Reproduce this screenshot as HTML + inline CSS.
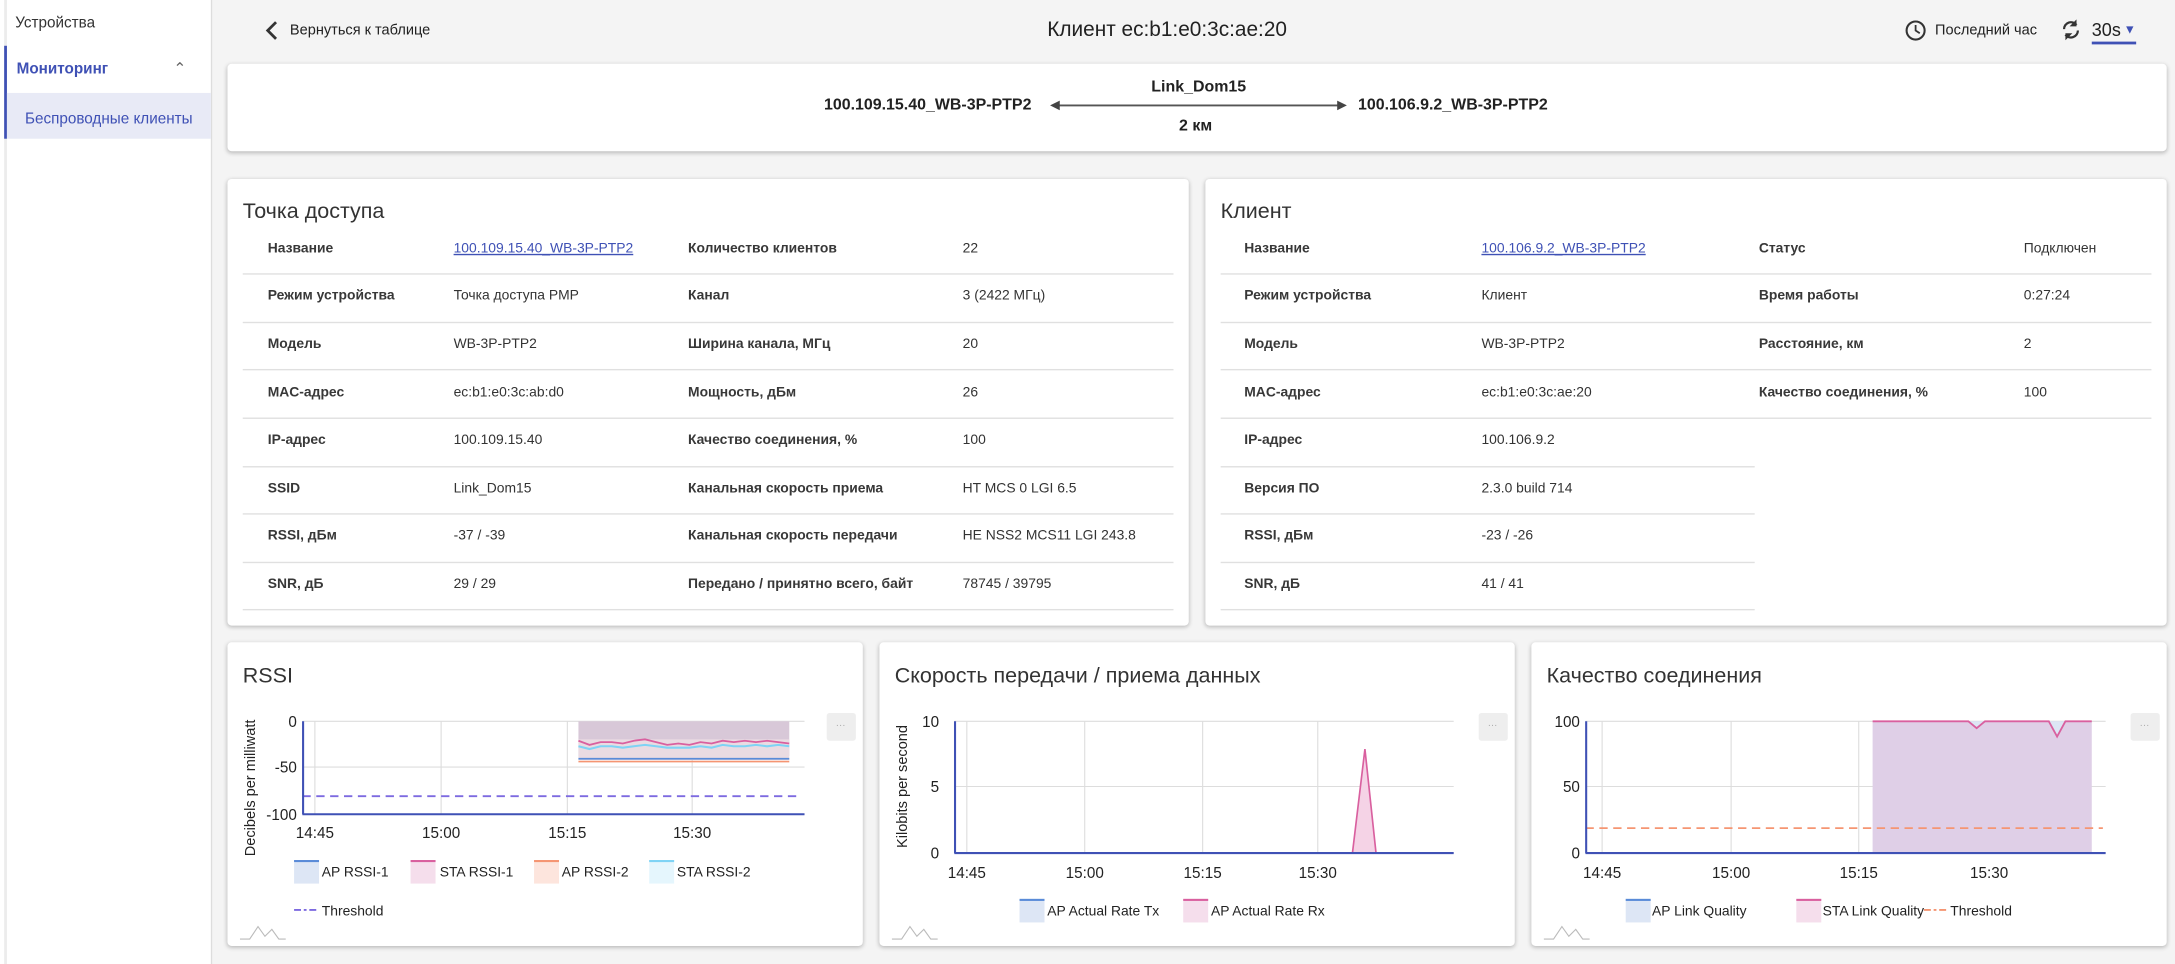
<!DOCTYPE html>
<html><head><meta charset="utf-8">
<style>
html,body{margin:0;padding:0;width:2175px;height:964px;overflow:hidden;background:#f4f4f4;}
#w{position:absolute;left:0;top:0;width:1568px;height:695px;transform:scale(1.38712);transform-origin:0 0;font-family:"Liberation Sans","Noto Sans CJK JP",sans-serif;color:#212121;}
.a{position:absolute;white-space:nowrap;}
.card{position:absolute;background:#fff;border-radius:3px;box-shadow:0 1px 3px rgba(0,0,0,.25);}
.lb{font-size:10px;font-weight:bold;color:#383838;}
.vl{font-size:10px;color:#333;}
.ln{position:absolute;height:1px;background:#e0e0e0;}
.t16{font-size:15.5px;color:#333;}
a{color:#3f51b5;}
svg text{font-family:"Liberation Sans",sans-serif;}
</style></head><body><div id="w">
<div class="a" style="left:0;top:0;width:152px;height:695px;background:#fff;border-right:1px solid #ddd;"></div>
<div class="a" style="left:3px;top:0;width:2px;height:695px;background:#ececec;"></div>
<div class="a" style="left:11px;top:11px;font-size:11px;color:#333;">Устройства</div>
<div class="a" style="left:3px;top:33px;width:149px;height:67px;border-left:2px solid #3f51b5;"></div>
<div class="a" style="left:5px;top:67px;width:147px;height:33px;background:#e8eaf6;"></div>
<div class="a" style="left:12px;top:44px;font-size:11px;color:#3f51b5;font-weight:bold;">Мониторинг</div>
<div class="a" style="left:125px;top:43px;font-size:11px;color:#666;">⌃</div>
<div class="a" style="left:18px;top:80px;font-size:11px;color:#3f51b5;">Беспроводные клиенты</div>
<svg class="a" style="left:190px;top:14px" width="12" height="16"><path d="M9 2 L3 8 L9 14" stroke="#333" stroke-width="2" fill="none"/></svg>
<div class="a" style="left:209px;top:16px;font-size:10.5px;">Вернуться к таблице</div>
<div class="a" style="left:755px;top:13px;font-size:15px;">Клиент ec:b1:e0:3c:ae:20</div>
<svg class="a" style="left:1373px;top:14px" width="16" height="16"><circle cx="8" cy="8" r="6.5" stroke="#333" stroke-width="1.5" fill="none"/><path d="M8 4V8L11 10" stroke="#333" stroke-width="1.3" fill="none"/></svg>
<div class="a" style="left:1395px;top:16px;font-size:10.5px;">Последний час</div>
<svg class="a" style="left:1485px;top:13px" width="16" height="17"><path d="M3 8A5 5 0 0 1 12 5M13 9A5 5 0 0 1 4 12" stroke="#333" stroke-width="1.6" fill="none"/><path d="M12 1V6H7Z M4 16V11H9Z" fill="#333"/></svg>
<div class="a" style="left:1508px;top:14px;font-size:13px;">30s</div>
<div class="a" style="left:1531px;top:16px;font-size:9px;color:#3f51b5;">▼</div>
<div class="a" style="left:1508px;top:30px;width:32px;height:1.5px;background:#3f51b5;"></div>
<div class="card" style="left:164px;top:46px;width:1398px;height:63px;"></div>
<div class="a" style="left:830px;top:57px;font-size:11.5px;font-weight:bold;">Link_Dom15</div>
<div class="a" style="left:594px;top:70px;font-size:11.5px;font-weight:bold;">100.109.15.40_WB-3P-PTP2</div>
<div class="a" style="left:979px;top:70px;font-size:11.5px;font-weight:bold;">100.106.9.2_WB-3P-PTP2</div>
<div class="a" style="left:850px;top:85px;font-size:11.5px;font-weight:bold;">2 км</div>
<svg class="a" style="left:757px;top:71px" width="214" height="10"><line x1="5" y1="5" x2="209" y2="5" stroke="#555" stroke-width="1.3"/><path d="M0 5L7 1.5V8.5Z M214 5L207 1.5V8.5Z" fill="#444"/></svg>
<div class="card" style="left:164px;top:129px;width:693px;height:322px;"></div>
<div class="a t16" style="left:175px;top:144px;">Точка доступа</div>
<div class="card" style="left:869px;top:129px;width:693px;height:322px;"></div>
<div class="a t16" style="left:880px;top:144px;">Клиент</div>
<div class="a lb" style="left:193px;top:174px">Название</div><div class="a vl" style="left:327px;top:174px"><a style="text-decoration:underline">100.109.15.40_WB-3P-PTP2</a></div><div class="a lb" style="left:496px;top:174px">Количество клиентов</div><div class="a vl" style="left:694px;top:174px">22</div>
<div class="a lb" style="left:193px;top:208px">Режим устройства</div><div class="a vl" style="left:327px;top:208px">Точка доступа PMP</div><div class="a lb" style="left:496px;top:208px">Канал</div><div class="a vl" style="left:694px;top:208px">3 (2422 МГц)</div>
<div class="a lb" style="left:193px;top:243px">Модель</div><div class="a vl" style="left:327px;top:243px">WB-3P-PTP2</div><div class="a lb" style="left:496px;top:243px">Ширина канала, МГц</div><div class="a vl" style="left:694px;top:243px">20</div>
<div class="a lb" style="left:193px;top:278px">MAC-адрес</div><div class="a vl" style="left:327px;top:278px">ec:b1:e0:3c:ab:d0</div><div class="a lb" style="left:496px;top:278px">Мощность, дБм</div><div class="a vl" style="left:694px;top:278px">26</div>
<div class="a lb" style="left:193px;top:312px">IP-адрес</div><div class="a vl" style="left:327px;top:312px">100.109.15.40</div><div class="a lb" style="left:496px;top:312px">Качество соединения, %</div><div class="a vl" style="left:694px;top:312px">100</div>
<div class="a lb" style="left:193px;top:347px">SSID</div><div class="a vl" style="left:327px;top:347px">Link_Dom15</div><div class="a lb" style="left:496px;top:347px">Канальная скорость приема</div><div class="a vl" style="left:694px;top:347px">HT MCS 0 LGI 6.5</div>
<div class="a lb" style="left:193px;top:381px">RSSI, дБм</div><div class="a vl" style="left:327px;top:381px">-37 / -39</div><div class="a lb" style="left:496px;top:381px">Канальная скорость передачи</div><div class="a vl" style="left:694px;top:381px">HE NSS2 MCS11 LGI 243.8</div>
<div class="a lb" style="left:193px;top:416px">SNR, дБ</div><div class="a vl" style="left:327px;top:416px">29 / 29</div><div class="a lb" style="left:496px;top:416px">Передано / принятно всего, байт</div><div class="a vl" style="left:694px;top:416px">78745 / 39795</div>
<div class="ln" style="left:175px;top:197px;width:671px"></div><div class="ln" style="left:175px;top:232px;width:671px"></div><div class="ln" style="left:175px;top:266px;width:671px"></div><div class="ln" style="left:175px;top:301px;width:671px"></div><div class="ln" style="left:175px;top:336px;width:671px"></div><div class="ln" style="left:175px;top:370px;width:671px"></div><div class="ln" style="left:175px;top:405px;width:671px"></div><div class="ln" style="left:175px;top:439px;width:671px"></div>
<div class="a lb" style="left:897px;top:174px">Название</div><div class="a vl" style="left:1068px;top:174px"><a style="text-decoration:underline">100.106.9.2_WB-3P-PTP2</a></div><div class="a lb" style="left:1268px;top:174px">Статус</div><div class="a vl" style="left:1459px;top:174px">Подключен</div>
<div class="a lb" style="left:897px;top:208px">Режим устройства</div><div class="a vl" style="left:1068px;top:208px">Клиент</div><div class="a lb" style="left:1268px;top:208px">Время работы</div><div class="a vl" style="left:1459px;top:208px">0:27:24</div>
<div class="a lb" style="left:897px;top:243px">Модель</div><div class="a vl" style="left:1068px;top:243px">WB-3P-PTP2</div><div class="a lb" style="left:1268px;top:243px">Расстояние, км</div><div class="a vl" style="left:1459px;top:243px">2</div>
<div class="a lb" style="left:897px;top:278px">MAC-адрес</div><div class="a vl" style="left:1068px;top:278px">ec:b1:e0:3c:ae:20</div><div class="a lb" style="left:1268px;top:278px">Качество соединения, %</div><div class="a vl" style="left:1459px;top:278px">100</div>
<div class="a lb" style="left:897px;top:312px">IP-адрес</div><div class="a vl" style="left:1068px;top:312px">100.106.9.2</div>
<div class="a lb" style="left:897px;top:347px">Версия ПО</div><div class="a vl" style="left:1068px;top:347px">2.3.0 build 714</div>
<div class="a lb" style="left:897px;top:381px">RSSI, дБм</div><div class="a vl" style="left:1068px;top:381px">-23 / -26</div>
<div class="a lb" style="left:897px;top:416px">SNR, дБ</div><div class="a vl" style="left:1068px;top:416px">41 / 41</div>
<div class="ln" style="left:880px;top:197px;width:671px"></div><div class="ln" style="left:880px;top:232px;width:671px"></div><div class="ln" style="left:880px;top:266px;width:671px"></div><div class="ln" style="left:880px;top:301px;width:671px"></div><div class="ln" style="left:880px;top:336px;width:385px"></div><div class="ln" style="left:880px;top:370px;width:385px"></div><div class="ln" style="left:880px;top:405px;width:385px"></div><div class="ln" style="left:880px;top:439px;width:385px"></div>
<div class="card" style="left:164px;top:463px;width:458px;height:219px;"></div>
<div class="card" style="left:634px;top:463px;width:458px;height:219px;"></div>
<div class="card" style="left:1104px;top:463px;width:458px;height:219px;"></div>
<div class="a t16" style="left:175px;top:479px;">RSSI</div>
<div class="a t16" style="left:645px;top:479px;">Скорость передачи / приема данных</div>
<div class="a t16" style="left:1115px;top:479px;">Качество соединения</div>
<svg class="a" style="left:0;top:0" width="1568" height="695">
<g font-size="11" fill="#222">
<g stroke="#ddd" stroke-width="0.8"><line x1="218" y1="520" x2="580" y2="520"/><line x1="218" y1="553" x2="580" y2="553"/><line x1="227" y1="520" x2="227" y2="587"/><line x1="318" y1="520" x2="318" y2="587"/><line x1="409" y1="520" x2="409" y2="587"/><line x1="499" y1="520" x2="499" y2="587"/></g>
<rect x="417" y="520" width="152" height="25" fill="#d8c8d8"/>
<rect x="417" y="533" width="152" height="15" fill="#eadbe2"/>
<polyline points="417,534 425,537 433,535 441,535 449,536 457,534 465,533 473,535 481,537 489,536 497,537 505,535 513,536 521,534 529,535 537,534 545,535 553,534 561,535 569,536" fill="none" stroke="#d9609f" stroke-width="1.3"/>
<polyline points="417,538 425,540 433,538 441,538 449,539 457,538 465,537 473,538 481,539 489,539 497,539 505,538 513,539 521,537 529,538 537,538 545,537 553,538 561,537 569,538" fill="none" stroke="#7fd3f5" stroke-width="1.5"/>
<line x1="417" y1="547" x2="569" y2="547" stroke="#5a8bd8" stroke-width="1.2"/>
<line x1="417" y1="549" x2="569" y2="549" stroke="#f59572" stroke-width="1.2"/>
<line x1="218" y1="574" x2="577" y2="574" stroke="#7d6ae0" stroke-width="1.3" stroke-dasharray="6,4"/>
<line x1="218.5" y1="520" x2="218.5" y2="587" stroke="#3f51b5" stroke-width="1.5"/>
<line x1="218" y1="587" x2="580" y2="587" stroke="#3f51b5" stroke-width="1.5"/>
<text x="214" y="524" text-anchor="end">0</text><text x="214" y="557" text-anchor="end">-50</text><text x="214" y="591" text-anchor="end">-100</text>
<text x="227" y="604" text-anchor="middle">14:45</text><text x="318" y="604" text-anchor="middle">15:00</text><text x="409" y="604" text-anchor="middle">15:15</text><text x="499" y="604" text-anchor="middle">15:30</text>
<text transform="translate(184,568) rotate(-90)" text-anchor="middle" font-size="10.5">Decibels per milliwatt</text>
<g stroke="#ddd" stroke-width="0.8"><line x1="688" y1="520" x2="1048" y2="520"/><line x1="688" y1="567" x2="1048" y2="567"/><line x1="697" y1="520" x2="697" y2="615"/><line x1="782" y1="520" x2="782" y2="615"/><line x1="867" y1="520" x2="867" y2="615"/><line x1="950" y1="520" x2="950" y2="615"/></g>
<path d="M975 615L984 540L992 615Z" fill="#f5d3e6" stroke="#d9609f" stroke-width="1.2"/>
<line x1="688.5" y1="520" x2="688.5" y2="615" stroke="#3f51b5" stroke-width="1.5"/>
<line x1="688" y1="615" x2="1048" y2="615" stroke="#3f51b5" stroke-width="1.5"/>
<text x="677" y="524" text-anchor="end">10</text><text x="677" y="571" text-anchor="end">5</text><text x="677" y="619" text-anchor="end">0</text>
<text x="697" y="633" text-anchor="middle">14:45</text><text x="782" y="633" text-anchor="middle">15:00</text><text x="867" y="633" text-anchor="middle">15:15</text><text x="950" y="633" text-anchor="middle">15:30</text>
<text transform="translate(654,567) rotate(-90)" text-anchor="middle" font-size="10.5">Kilobits per second</text>
<g stroke="#ddd" stroke-width="0.8"><line x1="1143" y1="520" x2="1518" y2="520"/><line x1="1143" y1="567" x2="1518" y2="567"/><line x1="1155" y1="520" x2="1155" y2="615"/><line x1="1248" y1="520" x2="1248" y2="615"/><line x1="1340" y1="520" x2="1340" y2="615"/><line x1="1434" y1="520" x2="1434" y2="615"/></g>
<rect x="1350" y="520" width="158" height="95" fill="#dfcfe7"/>
<path d="M1419 520L1425 525L1431 520Z M1477 520L1483 531L1489 520Z" fill="#dde6f5"/>
<polyline points="1350,520 1419,520 1425,525 1431,520 1477,520 1483,531 1489,520 1508,520" fill="none" stroke="#d9609f" stroke-width="1.3"/>
<line x1="1143" y1="597" x2="1516" y2="597" stroke="#f59572" stroke-width="1.3" stroke-dasharray="6,4"/>
<line x1="1143.5" y1="520" x2="1143.5" y2="615" stroke="#3f51b5" stroke-width="1.5"/>
<line x1="1143" y1="615" x2="1518" y2="615" stroke="#3f51b5" stroke-width="1.5"/>
<text x="1139" y="524" text-anchor="end">100</text><text x="1139" y="571" text-anchor="end">50</text><text x="1139" y="619" text-anchor="end">0</text>
<text x="1155" y="633" text-anchor="middle">14:45</text><text x="1248" y="633" text-anchor="middle">15:00</text><text x="1340" y="633" text-anchor="middle">15:15</text><text x="1434" y="633" text-anchor="middle">15:30</text>
<g font-size="10">
<rect x="212" y="620" width="18" height="17" fill="#dde6f5"/><rect x="212" y="620" width="18" height="1.5" fill="#5a8bd8"/><text x="232" y="632">AP RSSI-1</text>
<rect x="296" y="620" width="18" height="17" fill="#f5deec"/><rect x="296" y="620" width="18" height="1.5" fill="#d9609f"/><text x="317" y="632">STA RSSI-1</text>
<rect x="385" y="620" width="18" height="17" fill="#fde5dd"/><rect x="385" y="620" width="18" height="1.5" fill="#f59572"/><text x="405" y="632">AP RSSI-2</text>
<rect x="468" y="620" width="18" height="17" fill="#e5f6fd"/><rect x="468" y="620" width="18" height="1.5" fill="#7fd3f5"/><text x="488" y="632">STA RSSI-2</text>
<line x1="212" y1="656" x2="230" y2="656" stroke="#7d6ae0" stroke-width="1.3" stroke-dasharray="5,2,2,2"/><text x="232" y="660">Threshold</text>
<rect x="735" y="648" width="18" height="17" fill="#dde6f5"/><rect x="735" y="648" width="18" height="1.5" fill="#5a8bd8"/><text x="755" y="660">AP Actual Rate Tx</text>
<rect x="853" y="648" width="18" height="17" fill="#f5deec"/><rect x="853" y="648" width="18" height="1.5" fill="#d9609f"/><text x="873" y="660">AP Actual Rate Rx</text>
<rect x="1172" y="648" width="18" height="17" fill="#dde6f5"/><rect x="1172" y="648" width="18" height="1.5" fill="#5a8bd8"/><text x="1191" y="660">AP Link Quality</text>
<rect x="1295" y="648" width="18" height="17" fill="#f5deec"/><rect x="1295" y="648" width="18" height="1.5" fill="#d9609f"/><text x="1314" y="660">STA Link Quality</text>
<line x1="1387" y1="656" x2="1404" y2="656" stroke="#f59572" stroke-width="1.3" stroke-dasharray="5,2,2,2"/><text x="1406" y="660">Threshold</text>
</g>
</g>
<rect x="596" y="514" width="21" height="20" rx="2" fill="#eee"/><text x="606" y="525" font-size="7" fill="#aaa" text-anchor="middle">···</text>
<rect x="1066" y="514" width="21" height="20" rx="2" fill="#eee"/><text x="1076" y="525" font-size="7" fill="#aaa" text-anchor="middle">···</text>
<rect x="1536" y="514" width="21" height="20" rx="2" fill="#eee"/><text x="1546" y="525" font-size="7" fill="#aaa" text-anchor="middle">···</text>
<g fill="none" stroke="#bbb" stroke-width="0.8">
<path d="M173 677L180 677L186 668L191 675L196 670L201 677L206 677"/>
<path d="M643 677L650 677L656 668L661 675L666 670L671 677L676 677"/>
<path d="M1113 677L1120 677L1126 668L1131 675L1136 670L1141 677L1146 677"/>
</g>
</svg>
</div></body></html>
